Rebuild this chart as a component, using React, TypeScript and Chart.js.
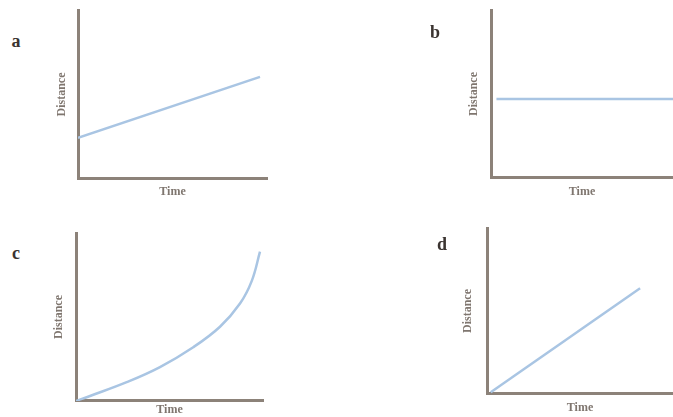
import React, { useEffect, useRef } from "react";
import { Chart, registerables } from "chart.js";

Chart.register(...registerables);

// ---- data ----
const panelLetters = ["a", "b", "c", "d"];
const xAxisTitle = "Time";
const yAxisTitle = "Distance";

const seriesA_x = [0, 9.63];
const seriesA_y = [2.43, 6.04];

const seriesB_x = [0.3, 10];
const seriesB_y = [4.7, 4.7];

const seriesC_x = [0, 0.75, 2.71, 4.49, 6.27, 7.7, 8.77, 9.4, 9.84];
const seriesC_y = [0, 0.3, 1.12, 2.02, 3.2, 4.42, 5.8, 7.15, 8.89];

const seriesD_x = [0.2, 8.23];
const seriesD_y = [0.1, 6.37];

const axisMin = 0;
const axisMax = 10;

// ---- layout / style (page coordinates) ----
type Layout = {
  canvas: { x: number; y: number; w: number; h: number };
  area: { l: number; t: number; r: number; b: number };
  yTitleX: number;
  xTitleY: number;
  letter: { x: number; y: number };
};

const layouts: Layout[] = [
  { canvas: { x: 30, y: 0, w: 270, h: 205 }, area: { l: 78, t: 10, r: 267, b: 179 }, yTitleX: 62, xTitleY: 192, letter: { x: 16, y: 41 } },
  { canvas: { x: 440, y: 0, w: 233, h: 205 }, area: { l: 491, t: 10, r: 673, b: 178 }, yTitleX: 474, xTitleY: 192, letter: { x: 435, y: 32 } },
  { canvas: { x: 30, y: 215, w: 270, h: 202 }, area: { l: 76, t: 233, r: 263, b: 401 }, yTitleX: 59, xTitleY: 410, letter: { x: 16, y: 253 } },
  { canvas: { x: 440, y: 215, w: 233, h: 202 }, area: { l: 487, t: 228, r: 673, b: 394 }, yTitleX: 468, xTitleY: 408, letter: { x: 442, y: 244 } },
];

const AXIS_COLOR = "#8c8279";
const LINE_COLOR = "#a9c5e3";
const LABEL_COLOR = "#7f766f";
const FONT_FAMILY = "'Liberation Serif', 'DejaVu Serif', serif";
const TITLE_SIZE = 12;
const LH = TITLE_SIZE * 1.2;

function Panel({ xs, ys, layout, smooth }: { xs: number[]; ys: number[]; layout: Layout; smooth: boolean }) {
  const ref = useRef<HTMLCanvasElement | null>(null);
  useEffect(() => {
    if (!ref.current) return;
    const { canvas, area, yTitleX, xTitleY } = layout;
    const padLeft = yTitleX - canvas.x - LH / 2;
    const yTitlePadBottom = area.l - yTitleX - LH / 2;
    const padBottom = canvas.y + canvas.h - (xTitleY + LH / 2);
    const xTitlePadTop = xTitleY - LH / 2 - area.b;
    const padTop = area.t - canvas.y;
    const padRight = canvas.x + canvas.w - area.r;

    const scaleBase = (title: string, pad: any) => ({
      type: "linear" as const,
      min: axisMin,
      max: axisMax,
      ticks: { display: false },
      grid: { display: false, drawTicks: false },
      border: { display: true, color: AXIS_COLOR, width: 3 },
      title: {
        display: true,
        text: title,
        color: LABEL_COLOR,
        font: { family: FONT_FAMILY, size: TITLE_SIZE, weight: "bold" as const },
        padding: pad,
      },
    });

    const chart = new Chart(ref.current, {
      type: "line",
      data: {
        datasets: [
          {
            data: xs.map((x, i) => ({ x, y: ys[i] })),
            borderColor: LINE_COLOR,
            borderWidth: 2.5,
            pointRadius: 0,
            fill: false,
            tension: smooth ? 0.4 : 0,
          },
        ],
      },
      options: {
        responsive: false,
        animation: false,
        layout: { padding: { left: padLeft, right: padRight, top: padTop, bottom: padBottom } },
        plugins: { legend: { display: false }, tooltip: { enabled: false } },
        scales: {
          x: scaleBase(xAxisTitle, { top: xTitlePadTop, bottom: 0 }),
          y: scaleBase(yAxisTitle, { top: 0, bottom: yTitlePadBottom }),
        },
      },
    });
    return () => chart.destroy();
  }, [xs, ys, layout, smooth]);

  const { canvas } = layout;
  return (
    <canvas
      ref={ref}
      width={canvas.w}
      height={canvas.h}
      style={{ position: "absolute", left: canvas.x, top: canvas.y, width: canvas.w, height: canvas.h }}
    />
  );
}

export default function App() {
  const series = [
    { xs: seriesA_x, ys: seriesA_y, smooth: false },
    { xs: seriesB_x, ys: seriesB_y, smooth: false },
    { xs: seriesC_x, ys: seriesC_y, smooth: true },
    { xs: seriesD_x, ys: seriesD_y, smooth: false },
  ];
  return (
    <div style={{ position: "fixed", left: 0, top: 0, width: 673, height: 417, background: "#ffffff", overflow: "hidden" }}>
      {series.map((s, i) => (
        <Panel key={i} xs={s.xs} ys={s.ys} layout={layouts[i]} smooth={s.smooth} />
      ))}
      {layouts.map((l, i) => (
        <span
          key={"l" + i}
          style={{
            position: "absolute",
            left: l.letter.x,
            top: l.letter.y,
            transform: "translate(-50%, -50%)",
            fontFamily: FONT_FAMILY,
            fontWeight: "bold",
            fontSize: 18,
            color: "#3b3431",
            lineHeight: 1,
          }}
        >
          {panelLetters[i]}
        </span>
      ))}
    </div>
  );
}
